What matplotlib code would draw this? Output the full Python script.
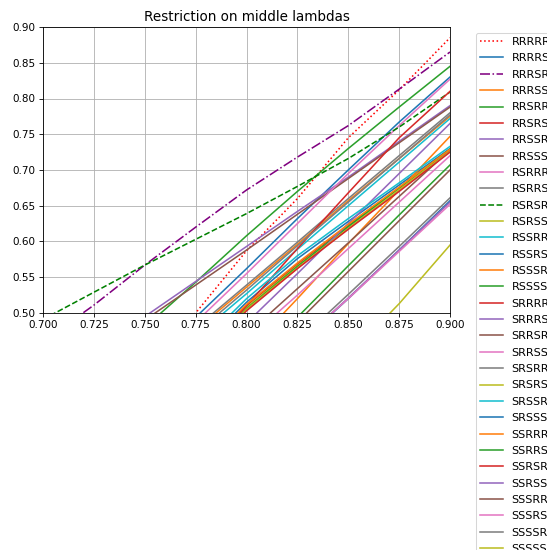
import matplotlib
matplotlib.use('Agg')
import matplotlib.pyplot as plt

# shared x grid (lambda values)
lam = [0.700, 0.725, 0.750, 0.775, 0.800, 0.825, 0.850, 0.875, 0.900]

RRRRR = [0.26, 0.34, 0.42, 0.50, 0.587, 0.66, 0.745, 0.812, 0.885]
RRRRS = [0.30, 0.37, 0.44, 0.494, 0.562, 0.632, 0.70, 0.767, 0.830]
RRRSR = [0.46, 0.511, 0.567, 0.62, 0.672, 0.718, 0.762, 0.813, 0.865]
RRRSS = [0.34, 0.39, 0.42, 0.476, 0.536, 0.596, 0.657, 0.716, 0.775]
RRSRR = [0.36, 0.42, 0.48, 0.543, 0.608, 0.67, 0.73, 0.788, 0.845]
RRSRS = [0.32, 0.37, 0.39, 0.44, 0.51, 0.568, 0.622, 0.675, 0.728]
RRSSR = [0.40, 0.445, 0.495, 0.544, 0.593, 0.642, 0.69, 0.74, 0.79]
RRSSS = [0.395, 0.44, 0.49, 0.539, 0.588, 0.638, 0.688, 0.738, 0.788]
RSRRR = [0.30, 0.37, 0.43, 0.487, 0.555, 0.625, 0.695, 0.762, 0.827]
RSRRS = [0.34, 0.39, 0.42, 0.479, 0.539, 0.599, 0.66, 0.72, 0.78]
RSRSR = [0.491, 0.529, 0.567, 0.603, 0.639, 0.677, 0.716, 0.76, 0.809]
RSRSS = [0.32, 0.37, 0.39, 0.44, 0.508, 0.566, 0.62, 0.674, 0.727]
RSSRR = [0.33, 0.38, 0.41, 0.467, 0.527, 0.589, 0.65, 0.711, 0.772]
RSSRS = [0.32, 0.37, 0.39, 0.445, 0.515, 0.576, 0.628, 0.679, 0.73]
RSSSR = [0.30, 0.34, 0.37, 0.40, 0.445, 0.52, 0.597, 0.672, 0.747]
RSSSS = [0.32, 0.37, 0.39, 0.437, 0.506, 0.565, 0.621, 0.675, 0.729]
SRRRR = [0.30, 0.34, 0.38, 0.43, 0.51, 0.59, 0.668, 0.745, 0.81]
SRRRS = [0.30, 0.34, 0.38, 0.42, 0.486, 0.555, 0.625, 0.695, 0.765]
SRRSR = [0.30, 0.34, 0.37, 0.41, 0.47, 0.534, 0.598, 0.663, 0.728]
SRRSS = [0.30, 0.34, 0.37, 0.40, 0.462, 0.525, 0.59, 0.655, 0.72]
SRSRR = [0.33, 0.38, 0.41, 0.472, 0.532, 0.594, 0.655, 0.716, 0.777]
SRSRS = [0.32, 0.36, 0.39, 0.435, 0.505, 0.563, 0.618, 0.672, 0.726]
SRSSR = [0.33, 0.37, 0.40, 0.45, 0.52, 0.58, 0.632, 0.682, 0.733]
SRSSS = [0.28, 0.31, 0.34, 0.37, 0.40, 0.455, 0.52, 0.588, 0.657]
SSRRR = [0.32, 0.37, 0.39, 0.442, 0.512, 0.57, 0.624, 0.676, 0.729]
SSRRS = [0.30, 0.33, 0.36, 0.39, 0.43, 0.494, 0.566, 0.637, 0.707]
SSRSR = [0.31, 0.36, 0.38, 0.43, 0.503, 0.562, 0.617, 0.67, 0.725]
SSRSS = [0.28, 0.31, 0.34, 0.37, 0.40, 0.456, 0.521, 0.588, 0.655]
SSSRR = [0.30, 0.33, 0.36, 0.39, 0.425, 0.487, 0.558, 0.629, 0.70]
SSSRS = [0.28, 0.31, 0.34, 0.37, 0.40, 0.457, 0.52, 0.586, 0.652]
SSSSR = [0.28, 0.31, 0.34, 0.37, 0.40, 0.46, 0.526, 0.593, 0.661]
SSSSS = [0.25, 0.28, 0.31, 0.34, 0.37, 0.40, 0.44, 0.513, 0.595]

names = ['RRRRR', 'RRRRS', 'RRRSR', 'RRRSS', 'RRSRR', 'RRSRS', 'RRSSR', 'RRSSS',
         'RSRRR', 'RSRRS', 'RSRSR', 'RSRSS', 'RSSRR', 'RSSRS', 'RSSSR', 'RSSSS',
         'SRRRR', 'SRRRS', 'SRRSR', 'SRRSS', 'SRSRR', 'SRSRS', 'SRSSR', 'SRSSS',
         'SSRRR', 'SSRRS', 'SSRSR', 'SSRSS', 'SSSRR', 'SSSRS', 'SSSSR', 'SSSSS']
series = [RRRRR, RRRRS, RRRSR, RRRSS, RRSRR, RRSRS, RRSSR, RRSSS,
          RSRRR, RSRRS, RSRSR, RSRSS, RSSRR, RSSRS, RSSSR, RSSSS,
          SRRRR, SRRRS, SRRSR, SRRSS, SRSRR, SRSRS, SRSSR, SRSSS,
          SSRRR, SSRRS, SSRSR, SSRSS, SSSRR, SSSRS, SSSSR, SSSSS]

# a few highlighted combos get their own style
special = {'RRRRR': dict(color='r', linestyle=':'),
           'RRRSR': dict(color='purple', linestyle='-.'),
           'RSRSR': dict(color='g', linestyle='--')}

dpi = 75
fig = plt.figure(figsize=(547 / dpi, 550 / dpi), dpi=dpi)
ax = fig.add_axes([43 / 547, 1 - 313 / 550, 407 / 547, 286 / 550])

for name, vals in zip(names, series):
    ax.plot(lam, vals, label=name, **special.get(name, {}))

ax.set_xlim(0.7, 0.9)
ax.set_ylim(0.5, 0.9)
ax.grid(True)
ax.set_title('Restriction on middle lambdas', fontsize=13)
ax.legend(loc='upper left', bbox_to_anchor=(1.05, 1), fontsize=10.7,
          labelspacing=0.57)

fig.savefig('out.png', dpi=dpi)
